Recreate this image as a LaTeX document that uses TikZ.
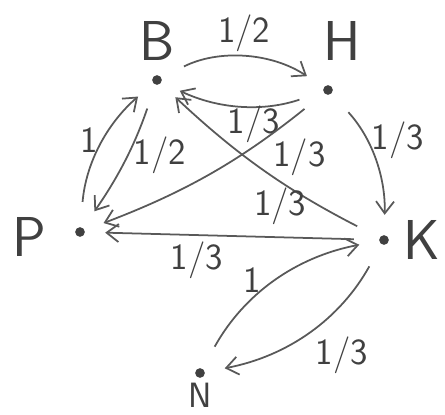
\documentclass[tikz,border=0pt]{standalone}
\usetikzlibrary{arrows.meta, positioning}

\begin{document}
\begin{tikzpicture}[
  x=0.02cm, y=0.02cm,
  state/.style={circle, fill=black!75, inner sep=0pt, minimum size=5.5pt},
  letter/.style={inner sep=0pt, font=\sffamily\fontsize{32}{36}\selectfont, text=black!75},
  weight/.style={font=\sffamily\fontsize{21}{24}\selectfont, text=black!75},
  edge/.style={-{Straight Barb[length=2.4mm, width=3.6mm]}, line width=1pt, draw=black!65,
    shorten <=0.5cm, shorten >=0.4cm}
]
\useasboundingbox[fill=white] (0,0) rectangle (445,414);

\node (B) [state] at (157,334) {};
\node (H) [state] at (328,324) {};
\node (P) [state] at (80,182) {};
\node (K) [state] at (384,174) {};
\node (N) [state] at (200,41) {};

\node (Bname) [letter, above=0.28cm of B] {B};
\node (Hname) [letter, above=0.48cm of H, xshift=0.28cm] {H};
\node (Pname) [letter, left=0.57cm of P, yshift=-0.1cm] {P};
\node (Kname) [letter, right=0.28cm of K] {K};
\node (Nname) [letter, below=0.1cm of N, font=\sffamily\fontsize{20}{24}\selectfont] {N};

\draw [edge] (B) to[bend left=30] node[weight, above] {1/2} (H);
\draw [edge] (H) to[bend left=22] node[weight, below, inner sep=0pt, pos=0.42] {1/3} (B);
\draw [edge] (H) to[bend left=22] node[weight, right, pos=0.36] {1/3} (K);
\draw [edge] (H) to[bend left=9] node[weight, below, pos=0.1, yshift=-0.4cm] {1/3} (P);
\draw [edge] (K) to[bend left=8] node[weight, below, pos=0.42] {1/3} (B);
\draw [edge] (K) -- node[weight, below, pos=0.62] {1/3} (P);
\draw [edge] (P) to[bend left=22] node[weight, left, pos=0.55] {1} (B);
\draw [edge] (B) to[bend left=8] node[weight, right, pos=0.47] {1/2} (P);
\draw [edge] (N) to[bend left=25] node[weight, above left, inner sep=0pt, pos=0.42] {1} (K);
\draw [edge] (K) to[bend left=25] node[weight, below right, pos=0.5] {1/3} (N);

\end{tikzpicture}
\end{document}
